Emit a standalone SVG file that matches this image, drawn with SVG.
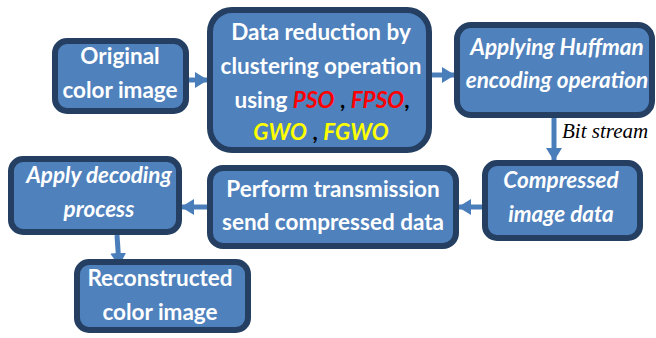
<svg xmlns="http://www.w3.org/2000/svg" width="656" height="338" viewBox="0 0 656 338">
<defs>
<style>
.box{fill:#4f81bd;stroke:#243f61;stroke-width:6}
.t{font-family:Lato,"Liberation Sans",sans-serif;font-weight:bold;font-size:22.5px;fill:#fff;text-anchor:middle}
.i{font-style:italic}
.red{fill:#ff0000;font-style:italic}
.yel{fill:#ffff00;font-style:italic}
.blk{fill:#000}
.conn{stroke:#4a7ebb;stroke-width:5;fill:none}
.lbl{font-family:"Liberation Serif",serif;font-style:italic;font-size:21px;fill:#000}
</style>
<marker id="ah" markerUnits="userSpaceOnUse" markerWidth="14" markerHeight="16" refX="12" refY="8" orient="auto">
<path d="M0,0 L13,8 L0,16 Z" fill="#4a7ebb"/>
</marker>
</defs>
<g id="connectors">
<line class="conn" x1="188" y1="80" x2="207" y2="80" marker-end="url(#ah)"/>
<line class="conn" x1="432" y1="75" x2="454" y2="75" marker-end="url(#ah)"/>
<line class="conn" x1="554" y1="118" x2="554" y2="160" marker-end="url(#ah)"/>
<line class="conn" x1="482" y1="207" x2="459" y2="207" marker-end="url(#ah)"/>
<line class="conn" x1="207" y1="207" x2="182" y2="207" marker-end="url(#ah)"/>
<line class="conn" x1="117" y1="235" x2="119" y2="265" marker-end="url(#ah)"/>
<text class="lbl" x="562" y="138">Bit stream</text>
</g>
<g id="original">
<rect class="box" x="55" y="41" width="131" height="70" rx="12"/>
<text class="t" x="120" y="64">Original</text>
<text class="t" x="120" y="98">color image</text>
</g>
<g id="reduction">
<rect class="box" x="210" y="10" width="219" height="140" rx="22"/>
<text class="t" x="321" y="40">Data reduction by</text>
<text class="t" x="321" y="74">clustering operation</text>
<text class="t" x="322" y="108">using <tspan class="red">PSO</tspan><tspan class="blk"> , </tspan><tspan class="red">FPSO</tspan><tspan class="blk">,</tspan></text>
<text class="t" x="321" y="140"><tspan class="yel">GWO</tspan><tspan class="blk"> , </tspan><tspan class="yel">FGWO</tspan></text>
</g>
<g id="huffman">
<rect class="box" x="457" y="25" width="195" height="90" rx="14"/>
<text class="t i" x="557" y="55">Applying Huffman</text>
<text class="t i" x="557" y="88">encoding operation</text>
</g>
<g id="compressed">
<rect class="box" x="485" y="163" width="155" height="75" rx="12"/>
<text class="t i" x="561" y="188">Compressed</text>
<text class="t i" x="561" y="222">image data</text>
</g>
<g id="transmission">
<rect class="box" x="210" y="168" width="246" height="78" rx="13"/>
<text class="t" x="333" y="197">Perform transmission</text>
<text class="t" x="333" y="230">send compressed data</text>
</g>
<g id="decoding">
<rect class="box" x="11" y="159" width="168" height="73" rx="12"/>
<text class="t i" x="99" y="183">Apply decoding</text>
<text class="t i" x="99" y="217">process</text>
</g>
<g id="reconstructed">
<rect class="box" x="77" y="262" width="171" height="68" rx="12"/>
<text class="t" x="160" y="286">Reconstructed</text>
<text class="t" x="160" y="320">color image</text>
</g>
</svg>
